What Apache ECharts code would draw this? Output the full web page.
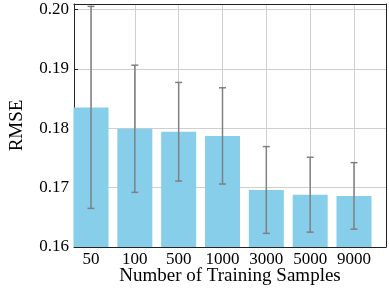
<!DOCTYPE html>
<html><head><meta charset="utf-8">
<script src="https://cdn.jsdelivr.net/npm/echarts@6/dist/echarts.min.js"></script>
<style>html,body{margin:0;padding:0;background:#fff}#c{width:389px;height:291px}</style>
</head><body><div id="c"></div>
<script>
const categories = ['50','100','500','1000','3000','5000','9000'];
const rmseMean = [0.1835, 0.1799, 0.1794, 0.1787, 0.1696, 0.1688, 0.1686];
const rmseErr = [0.0170, 0.0107, 0.0083, 0.0081, 0.0073, 0.0063, 0.0056];
const yTicks = [0.16, 0.17, 0.18, 0.19, 0.20];

const FONT = 'Liberation Serif';
const Y_MIN = 0.16, Y_MAX = 0.2009;
const frameColor = '#222';
const gridColor = '#cfcfcf';
const BAR_W = 35;

const chart = echarts.init(document.getElementById('c'), null, {renderer: 'canvas'});
const barData = rmseMean.map((v, i) => [i, v]);
const errData = rmseMean.map((v, i) => [i, v - rmseErr[i], v + rmseErr[i]]);

chart.setOption({
  animation: false,
  grid: [
    {left: 59, right: 3, top: 4, bottom: 44},
    {left: 91, right: 35, top: 4, bottom: 44}
  ],
  xAxis: [
    {gridIndex: 0, type: 'value', min: 0, max: 1, position: 'bottom',
     axisLine: {show: true, onZero: false, lineStyle: {color: frameColor, width: 1}},
     axisTick: {show: false}, axisLabel: {show: false}, splitLine: {show: false},
     name: 'Number of Training Samples', nameLocation: 'middle', nameGap: 20,
     nameTextStyle: {fontFamily: FONT, fontSize: 19, color: '#000'}},
    {gridIndex: 0, type: 'value', min: 0, max: 1, position: 'top',
     axisLine: {show: true, onZero: false, lineStyle: {color: frameColor, width: 1}},
     axisTick: {show: false}, axisLabel: {show: false}, splitLine: {show: false}},
    {gridIndex: 1, type: 'category', data: categories, boundaryGap: false,
     axisLine: {show: false},
     axisTick: {show: true, inside: true, length: 4, interval: 0, lineStyle: {color: frameColor}},
     axisLabel: {fontFamily: FONT, fontSize: 17, color: '#000', margin: 4, interval: 0},
     splitLine: {show: true, interval: 0, lineStyle: {color: gridColor, width: 1}}}
  ],
  yAxis: [
    {gridIndex: 0, type: 'value', min: Y_MIN, max: Y_MAX, interval: 0.01,
     axisLine: {show: true, onZero: false, lineStyle: {color: frameColor, width: 1}},
     axisTick: {show: true, inside: true, length: 4, lineStyle: {color: frameColor},
       customValues: yTicks},
     axisLabel: {fontFamily: FONT, fontSize: 17, color: '#000', margin: 5,
       customValues: yTicks,
       formatter: v => (Math.abs(v * 100 - Math.round(v * 100)) < 1e-6 ? v.toFixed(2) : '')},
     splitLine: {show: true, lineStyle: {color: gridColor, width: 1}},
     name: 'RMSE', nameLocation: 'middle', nameGap: 47,
     nameTextStyle: {fontFamily: FONT, fontSize: 19, color: '#000'}},
    {gridIndex: 0, type: 'value', min: Y_MIN, max: Y_MAX, position: 'right',
     axisLine: {show: true, onZero: false, lineStyle: {color: frameColor, width: 1}},
     axisTick: {show: false}, axisLabel: {show: false}, splitLine: {show: false}},
    {gridIndex: 1, type: 'value', min: Y_MIN, max: Y_MAX, show: false}
  ],
  series: [
    {type: 'custom', xAxisIndex: 2, yAxisIndex: 2, data: barData, z: 3, clip: false,
     renderItem: function (params, api) {
       const top = api.coord([api.value(0), api.value(1)]);
       const base = api.coord([api.value(0), Y_MIN]);
       return {type: 'rect',
         shape: {x: top[0] - BAR_W / 2, y: top[1], width: BAR_W, height: base[1] - top[1]},
         style: {fill: '#87CEEB'}};
     }},
    {type: 'custom', xAxisIndex: 2, yAxisIndex: 2, data: errData, z: 5, clip: false,
     renderItem: function (params, api) {
       const x = api.value(0);
       const lo = api.coord([x, api.value(1)]);
       const hi = api.coord([x, api.value(2)]);
       const cap = 3.5;
       const style = {stroke: '#808080', lineWidth: 1.5};
       return {type: 'group', children: [
         {type: 'line', shape: {x1: lo[0], y1: lo[1], x2: hi[0], y2: hi[1]}, style},
         {type: 'line', shape: {x1: lo[0] - cap, y1: lo[1], x2: lo[0] + cap, y2: lo[1]}, style},
         {type: 'line', shape: {x1: hi[0] - cap, y1: hi[1], x2: hi[0] + cap, y2: hi[1]}, style}
       ]};
     }}
  ]
});
</script></body></html>
